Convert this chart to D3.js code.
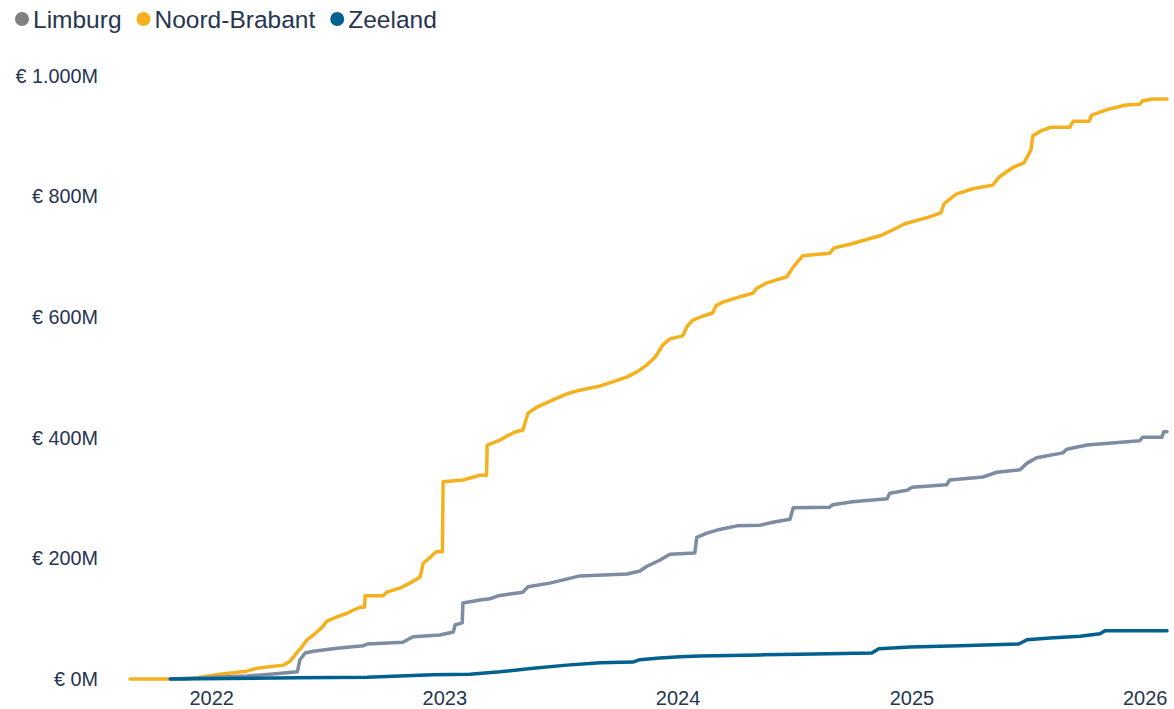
<!DOCTYPE html>
<html><head><meta charset="utf-8">
<script src="https://cdn.jsdelivr.net/npm/d3@7"></script>
<style>
body{margin:0;background:#fff;}
text{font-family:"Liberation Sans",Arial,sans-serif;}
</style>
</head><body>
<svg id="chart" width="1174" height="709"></svg>
<script>
// ---- DATA (values in millions of euros, cumulative) ----
const seriesNames = ["Limburg", "Noord-Brabant", "Zeeland"];

const brabantDates = ["2021-08-27","2021-11-26","2022-01-15","2022-02-26","2022-03-14","2022-04-24","2022-05-05","2022-05-16","2022-05-23","2022-05-31","2022-06-10","2022-06-24","2022-07-01","2022-07-17","2022-08-02","2022-08-11","2022-08-22","2022-08-29","2022-08-30","2022-09-27","2022-10-03","2022-10-24","2022-11-08","2022-11-24","2022-11-29","2022-12-10","2022-12-19","2022-12-29","2022-12-30","2023-01-30","2023-02-16","2023-02-26","2023-03-08","2023-03-09","2023-03-29","2023-04-09","2023-04-23","2023-05-04","2023-05-12","2023-05-26","2023-06-20","2023-07-12","2023-08-01","2023-09-02","2023-09-25","2023-10-14","2023-10-29","2023-11-14","2023-11-27","2023-12-09","2023-12-20","2024-01-09","2024-01-16","2024-01-25","2024-02-10","2024-02-25","2024-03-01","2024-03-12","2024-04-08","2024-04-28","2024-05-04","2024-05-20","2024-06-20","2024-06-30","2024-07-15","2024-08-26","2024-09-02","2024-09-27","2024-10-20","2024-11-13","2024-12-03","2024-12-22","2025-01-11","2025-01-28","2025-02-16","2025-02-21","2025-03-12","2025-04-07","2025-05-08","2025-05-19","2025-06-10","2025-06-26","2025-07-07","2025-07-10","2025-07-23","2025-08-07","2025-09-06","2025-09-11","2025-10-06","2025-10-10","2025-11-06","2025-12-03","2025-12-24","2025-12-29","2026-01-14","2026-02-05"];
const brabantValues = [0,0,8,13,18,23,30,45,53,65,73,86,96,103,109,114,119,119,138,138,144,151,159,169,192,202,211,211,327,330,335,338,338,388,396,403,410,413,441,451,463,473,479,486,494,501,509,521,534,554,564,569,585,595,602,607,619,625,634,640,648,657,667,683,702,706,715,721,728,735,745,755,761,766,773,788,804,813,819,833,849,856,877,901,909,915,915,925,925,935,945,952,953,959,962,962];

const limburgDates = ["2021-10-29","2022-02-26","2022-04-03","2022-05-16","2022-05-20","2022-05-28","2022-06-10","2022-07-17","2022-08-27","2022-09-02","2022-10-28","2022-11-13","2022-12-25","2023-01-15","2023-01-18","2023-01-29","2023-01-30","2023-02-26","2023-03-13","2023-03-26","2023-05-04","2023-05-12","2023-06-15","2023-08-01","2023-10-14","2023-11-03","2023-11-14","2023-12-04","2023-12-20","2024-01-28","2024-01-31","2024-02-16","2024-03-03","2024-04-03","2024-05-09","2024-05-29","2024-06-25","2024-06-30","2024-08-26","2024-08-31","2024-10-01","2024-11-24","2024-11-28","2024-12-25","2025-01-02","2025-02-25","2025-03-02","2025-04-23","2025-05-15","2025-06-20","2025-07-01","2025-07-16","2025-08-26","2025-09-01","2025-10-03","2025-12-24","2025-12-29","2026-01-28","2026-01-31","2026-02-05"];
const limburgValues = [0,5,8,12,32,43,46,51,55,58,61,70,73,78,90,93,126,131,133,138,144,153,159,171,174,179,187,197,207,209,235,242,247,254,255,260,265,284,285,289,294,299,308,313,318,322,330,335,343,347,358,367,375,381,388,395,401,401,410,410];

const zeelandDates = ["2021-10-29","2022-05-16","2022-09-02","2022-12-14","2023-02-10","2023-03-29","2023-05-20","2023-07-12","2023-09-02","2023-10-23","2023-11-03","2023-12-04","2024-01-05","2024-02-05","2024-05-09","2024-07-10","2024-10-31","2024-11-11","2024-12-30","2025-03-18","2025-06-18","2025-07-01","2025-08-06","2025-09-22","2025-10-23","2025-10-31","2026-02-05"];
const zeelandValues = [0,2,3,7,8,12,18,23,27,28,32,35,37,38,40,41,43,50,53,55,58,65,68,71,75,80,80];

const yTickValues = [0, 200, 400, 600, 800, 1000];
const xTickYears = [2022, 2023, 2024, 2025, 2026];

const lineColors = {"Limburg": "#7d8ca3", "Noord-Brabant": "#f5b01e", "Zeeland": "#00608f"};
const legendColors = {"Limburg": "#808080", "Noord-Brabant": "#f5b01e", "Zeeland": "#00608f"};

// ---- BUILD ----
const parse = d3.utcParse("%Y-%m-%d");
function build(dates, values){ return dates.map((d,i)=>({date: parse(d), value: values[i]})); }
const series = [
  {name: "Noord-Brabant", data: build(brabantDates, brabantValues)},
  {name: "Limburg", data: build(limburgDates, limburgValues)},
  {name: "Zeeland", data: build(zeelandDates, zeelandValues)}
];

const svg = d3.select("#chart");
const allDates = series.flatMap(s => s.data.map(d => d.date));
const x = d3.scaleUtc().domain(d3.extent(allDates)).range([130, 1167]);
const y = d3.scaleLinear().domain([0, 1000]).range([679, 76]);

const textColor = "#263550";
const loc = d3.formatLocale({decimal: ",", thousands: ".", grouping: [3], currency: ["€ ", ""]});
const fmt = loc.format(",");

// Y axis
const yAxis = d3.axisLeft(y).tickValues(yTickValues).tickSize(0).tickPadding(0)
  .tickFormat(v => "€ " + fmt(v) + "M");
const gy = svg.append("g").attr("transform", "translate(98,0)").call(yAxis);
gy.select(".domain").remove();
gy.selectAll("text").attr("fill", textColor).style("font-size", "19.8px")
  .style("font-family", "'Liberation Sans', Arial, sans-serif");

// X axis
const xAxis = d3.axisBottom(x).tickValues(xTickYears.map(yr => new Date(Date.UTC(yr, 0, 1))))
  .tickSize(0).tickPadding(0).tickFormat(d3.utcFormat("%Y"));
const gx = svg.append("g").attr("transform", "translate(0,690)").call(xAxis);
gx.select(".domain").remove();
gx.selectAll("text").attr("fill", textColor).style("font-size", "20px")
  .attr("dy", "0.75em")
  .style("font-family", "'Liberation Sans', Arial, sans-serif");

// Lines
const line = d3.line().x(d => x(d.date)).y(d => y(d.value)).curve(d3.curveLinear);
svg.append("g").selectAll("path").data(series).join("path")
  .attr("d", s => line(s.data))
  .attr("fill", "none")
  .attr("stroke", s => lineColors[s.name])
  .attr("stroke-width", 3.5)
  .attr("stroke-linejoin", "round")
  .attr("stroke-linecap", "round");

// Legend
const lg = svg.append("g");
let cx = 22;
seriesNames.forEach(name => {
  lg.append("circle").attr("cx", cx).attr("cy", 19).attr("r", 7).attr("fill", legendColors[name]);
  const t = lg.append("text").attr("x", cx + 11).attr("y", 19).attr("dy", "0.35em")
    .attr("fill", textColor).style("font-size", "24.5px").text(name);
  cx = cx + 11 + t.node().getComputedTextLength() + 22;
});
</script>
</body></html>
